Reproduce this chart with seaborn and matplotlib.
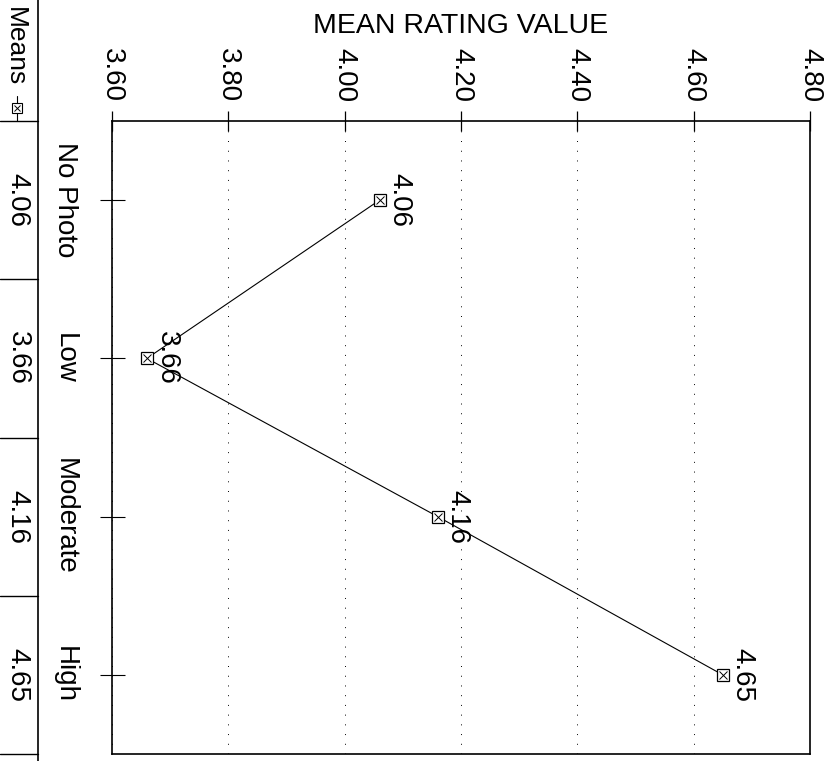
import matplotlib
matplotlib.use("Agg")
import matplotlib.pyplot as plt
from matplotlib.lines import Line2D
import pandas as pd
import seaborn as sns

categories = ["No Photo", "Low", "Moderate", "High"]
means = [4.06, 3.66, 4.16, 4.65]
value_ticks = [3.60, 3.80, 4.00, 4.20, 4.40, 4.60, 4.80]
axis_title = "MEAN RATING VALUE"
legend_label = "Means"

sns.set_theme(style="white")
plt.rcParams["font.family"] = ["Liberation Sans", "DejaVu Sans"]

W, H = 832, 761
fig = plt.figure(figsize=(W / 100, H / 100), dpi=100)


def fx(px):
    return px / W


def fy(py):
    return 1 - py / H


# plot area in pixels
left, right, top, bottom = 112, 810, 121, 754
ax = fig.add_axes([fx(left), fy(bottom), fx(right - left), fy(top) - fy(bottom)])

df = pd.DataFrame({"category": categories, "mean": means})

# line + open squares, then the cross inside each square
sns.pointplot(data=df, x="mean", y="category", order=categories, orient="h",
              errorbar=None, color="black", markers="s", linestyles="-",
              linewidth=0.8, markersize=8.5, markeredgewidth=0.9,
              markerfacecolor="white", ax=ax)
sns.pointplot(data=df, x="mean", y="category", order=categories, orient="h",
              errorbar=None, color="black", markers="x", linestyles="none",
              markersize=6, markeredgewidth=0.7, ax=ax)

ax.set_xlim(value_ticks[0], value_ticks[-1])
ax.set_ylim(len(categories) - 0.5, -0.5)

ax.xaxis.tick_top()
ax.xaxis.set_label_position("top")
ax.set_xticks(value_ticks)
ax.set_xticklabels([f"{v:.2f}" for v in value_ticks], rotation=-90)
ax.set_xlabel(axis_title, fontsize=20.5, labelpad=11, color="black")
ax.set_ylabel("")

ax.tick_params(axis="x", direction="inout", length=14, width=0.9, pad=6.5,
               labelsize=20, colors="black", top=True, bottom=False,
               labeltop=True, labelbottom=False)
ax.tick_params(axis="y", direction="inout", length=18, width=0.8, pad=15.5,
               labelsize=20, colors="black", left=True)
for lab in ax.get_yticklabels():
    lab.set_rotation(-90)
    lab.set_va("center")

ax.grid(True, axis="x", color="black", linestyle=(0, (1, 9)), linewidth=0.7)
ax.grid(False, axis="y")
for sp in ax.spines.values():
    sp.set_color("black")
    sp.set_linewidth(1.2)

# value labels next to each point
for i, m in enumerate(means):
    ax.annotate(f"{m:.2f}", (m, i), xytext=(5, 0), textcoords="offset points",
                rotation=-90, ha="left", va="center", fontsize=20, color="black")

# table of means down the left edge
tab = fig.add_axes([0, fy(bottom), fx(38), fy(top) - fy(bottom)])
tab.set_xlim(0, 1)
tab.set_ylim(len(categories) - 0.5, -0.5)
tab.axis("off")
for b in range(len(categories) + 1):
    tab.axhline(b - 0.5, color="black", linewidth=1.0, clip_on=False)
for i, m in enumerate(means):
    tab.text(0.47, i, f"{m:.2f}", rotation=-90, ha="center", va="center",
             fontsize=20, color="black")
fig.add_artist(Line2D([fx(38), fx(38)], [0, 1], color="black", linewidth=1.2))

# legend header
fig.text(fx(15), fy(86), legend_label, rotation=-90, ha="center", va="bottom",
         fontsize=19, color="black")
fig.add_artist(Line2D([fx(17), fx(17)], [fy(96), fy(121)], color="black", linewidth=0.8))
fig.add_artist(Line2D([fx(17)], [fy(108)], marker="s", markersize=7,
                      markerfacecolor="white", markeredgecolor="black",
                      markeredgewidth=0.8))
fig.add_artist(Line2D([fx(17)], [fy(108)], marker="x", markersize=5,
                      markeredgecolor="black", markeredgewidth=0.7))

fig.savefig("out.png", dpi=100)
